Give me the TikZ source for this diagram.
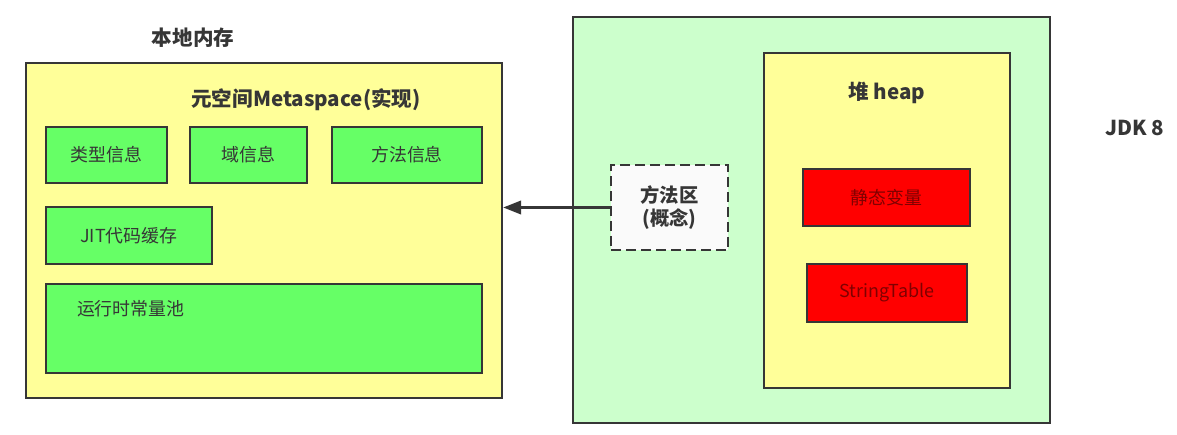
\documentclass[tikz,border=0pt]{standalone}
\usepackage{fontspec}
\setmainfont{Noto Sans CJK SC}
\usetikzlibrary{arrows.meta, positioning}
\definecolor{memyellow}{HTML}{FFFF99}
\definecolor{boxgreen}{HTML}{66FF66}
\definecolor{jdkgreen}{HTML}{CCFFCC}
\definecolor{edge}{HTML}{363636}
\tikzset{
  every node/.style={font=\fontsize{10.2}{12}\selectfont, text=edge},
  area/.style  = {rectangle, draw=edge, line width=1.4pt, fill=memyellow, inner sep=0pt},
  part/.style  = {rectangle, draw=edge, line width=1.4pt, fill=boxgreen, inner sep=0pt,
                  align=center},
  heapv/.style = {rectangle, draw=edge, line width=1.4pt, fill=red, inner sep=0pt,
                  align=center, text=red!50!black},
  concept/.style = {rectangle, draw=edge, line width=1.4pt, dash pattern=on 0.2cm off 0.1cm,
                  fill=white!98!black, align=center, inner sep=0pt,
                  font=\fontsize{11}{13}\selectfont\bfseries},
  title/.style = {font=\fontsize{11.7}{13}\selectfont\bfseries},
  arrow/.style = {-{Triangle[length=0.36cm,width=0.27cm]}, line width=1.4pt, draw=edge},
}
\begin{document}
\begin{tikzpicture}[x=0.02cm, y=-0.02cm]
  \useasboundingbox (0,0) rectangle (1177,435);

  % ---- native memory / metaspace ----
  \node[area] (mem) at (264,230.5) [minimum width=9.52cm, minimum height=6.7cm] {};
  \node[title] (memlbl)  at (193,38)  {本地内存};
  \node[title] (metalbl) at (306,100) {元空间Metaspace(实现)};

  \node[part] (type)   at (106.5,155) [minimum width=2.42cm, minimum height=1.12cm] {类型信息};
  \node[part] (field)  at (248.5,155) [minimum width=2.34cm, minimum height=1.12cm] {域信息};
  \node[part] (method) at (407,155)   [minimum width=3.0cm,  minimum height=1.12cm] {方法信息};
  \node[part] (jit)    at (129,235.5) [minimum width=3.32cm, minimum height=1.14cm] {JIT代码缓存};
  \node[part] (pool)   at (264,328.5) [minimum width=8.72cm, minimum height=1.78cm,
        label={[anchor=west, xshift=0.52cm, yshift=-0.52cm]north west:运行时常量池}] {};

  % ---- JDK 8 ----
  \node[area, fill=jdkgreen] (jdk) at (811.5,220) [minimum width=9.54cm, minimum height=8.12cm] {};
  \node[title] (jdklbl) at (1135,128) {JDK 8};

  \node[concept] (mdarea) at (669.5,207.5) [minimum width=2.34cm, minimum height=1.7cm] {方法区\\(概念)};

  \node[area] (heap) at (887,220.5) [minimum width=4.92cm, minimum height=6.7cm] {};
  \node[title] (heaplbl) at (887,93) {堆 heap};
  \node[heapv] (static) at (886.5,197.5) [minimum width=3.34cm, minimum height=1.14cm] {静态变量};
  \node[heapv] (strtab) at (887,293)     [minimum width=3.2cm,  minimum height=1.16cm] {StringTable};

  % ---- method area -> metaspace ----
  \draw[arrow] (mdarea.west) -- (mdarea.west -| mem.east);
\end{tikzpicture}
\end{document}
